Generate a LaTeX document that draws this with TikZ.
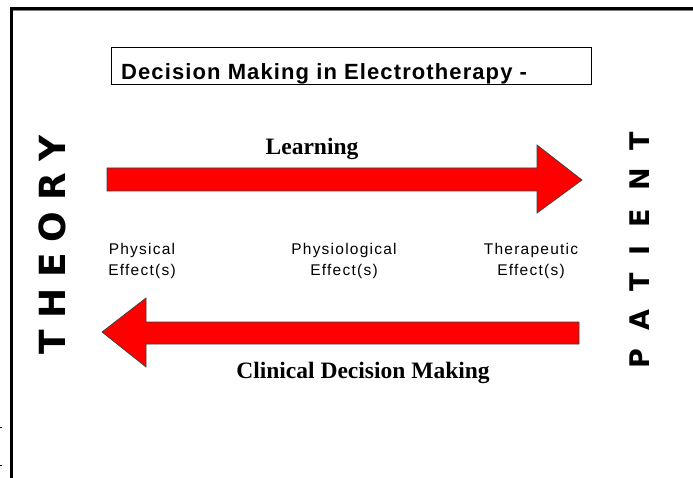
\documentclass[tikz,border=0pt]{standalone}
\usepackage{fontspec}
\setmainfont{Liberation Sans}
\newfontfamily\serifx{Liberation Serif}
\newfontfamily\heavy{DejaVu Sans}
\begin{document}
\begin{tikzpicture}[x=1pt,y=-1pt,
  redarrow/.style={fill=red, draw=black!75, line width=0.7pt, line join=miter},
  frameline/.style={line width=3pt, draw=black},
  lbl/.style={font=\fontsize{15.5}{21}\selectfont\addfontfeature{LetterSpace=8}, align=center, inner sep=0pt},
  bigword/.style={font=\fontsize{#1}{#1}\selectfont\heavy\bfseries, rotate=90, inner sep=0pt},
  sertext/.style={font=\fontsize{23.5}{23.5}\selectfont\serifx\bfseries, inner sep=0pt},
  titlebox/.style={draw=black, line width=0.9pt},
  titletext/.style={font=\fontsize{22}{22}\selectfont\bfseries\addfontfeature{LetterSpace=5}, inner sep=0pt, anchor=base west}
]
\useasboundingbox[fill=white] (0,0) rectangle (693,478);
% outer frame
\draw[frameline] (11.5,478) -- (11.5,8.5) -- (693,8.5);
\draw[gray, line width=1pt] (13,11) -- (693,11);
% tiny marks at left edge
\draw[black, line width=1pt] (0,427) -- (2,427);
\draw[black, line width=1pt] (0,465) -- (2,465);
% title
\draw[titlebox] (111,47) rectangle (591,84);
\node[titletext] (title) at (121,80) {Decision Making in Electrotherapy -};
% arrows
\draw[redarrow] (107,168) -- (537,168) -- (537,145) -- (582,180) -- (537,213) -- (537,191) -- (107,191) -- cycle;
\draw[redarrow] (579,322) -- (146,322) -- (146,298) -- (102,332) -- (146,367) -- (146,344) -- (579,344) -- cycle;
% texts
\node[sertext] (learn) at (312,149) {Learning};
\node[sertext] (cdm) at (363,373) {Clinical Decision Making};
\node[lbl] (phys) at (142,261) {Physical\\Effect(s)};
\node[lbl] (physio) at (344,261) {Physiological\\Effect(s)};
\node[lbl] (thera) at (531,261) {Therapeutic\\Effect(s)};
\node[bigword=36] (theory) at (52,245) {T\hspace{11pt}H\hspace{11pt}E\hspace{11pt}O\hspace{11pt}R\hspace{11pt}Y};
\node[bigword=27] (patient) at (640,250) {P\hspace{18pt}A\hspace{18pt}T\hspace{18pt}I\hspace{18pt}E\hspace{18pt}N\hspace{18pt}T};
\end{tikzpicture}
\end{document}
